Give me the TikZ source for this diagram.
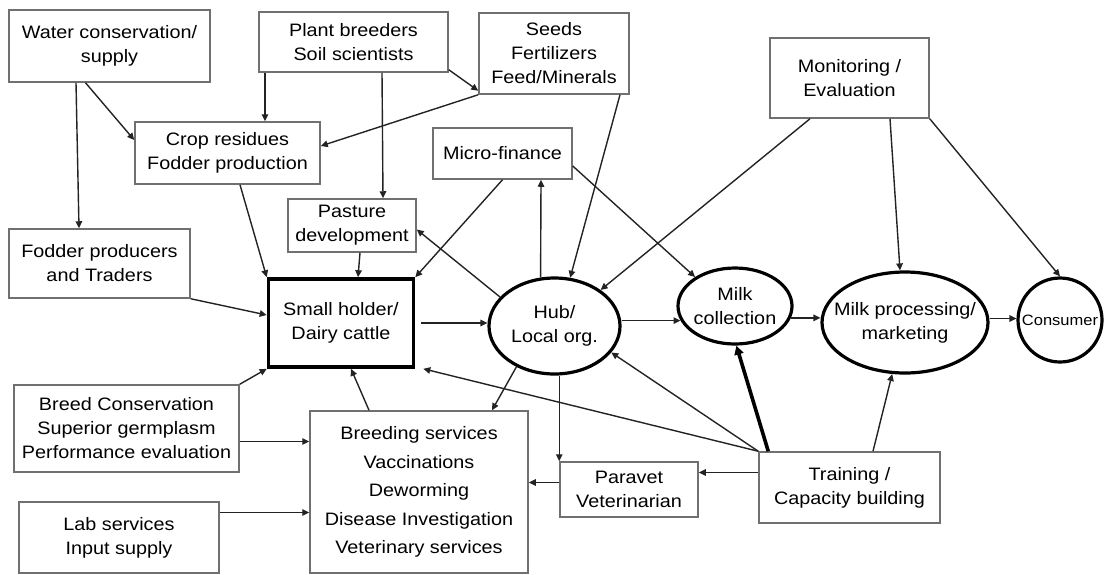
\documentclass[tikz,border=0pt]{standalone}
\usepackage{fontspec}
\usepackage{tikz}
\usetikzlibrary{
  arrows.meta,
  positioning,
  shapes.geometric,
  calc
}
\newfontfamily\diafont[FakeStretch=1.1]{Liberation Sans}
\definecolor{boxgray}{RGB}{112,112,112}
\definecolor{inkgray}{RGB}{35,35,35}
\newcommand{\ctrline}[1]{\makebox[0pt]{#1}}
\tikzset{
  box/.style={draw=boxgray, line width=1.5pt, align=center, inner sep=2pt,
    font=\diafont\fontsize{18}{24}\selectfont},
  holder/.style={box, draw=black, line width=3.6pt},
  stage/.style={ellipse, draw=black, line width=3.2pt, align=center, inner sep=0pt,
    font=\diafont\fontsize{18}{24}\selectfont},
  link/.style={draw=inkgray, line width=1.4pt, -{Triangle[length=7pt,width=6.5pt]}},
  boldlink/.style={link, draw=black, line width=3.6pt, -{Triangle[length=9pt,width=9pt]}}
}

\begin{document}
\begin{tikzpicture}[x=1pt, y=-1pt]
  \useasboundingbox (0,0) rectangle (1107,574);

  % inputs, top row
  \node[box, minimum width=201pt, minimum height=72pt] (water) at (109.5,46) {Water conservation/\\supply};
  \node[box, minimum width=189pt, minimum height=60pt] (plant) at (353.5,42) {Plant breeders\\Soil scientists};
  \node[box, minimum width=150pt, minimum height=81pt] (seeds) at (554,53.5) {Seeds\\Fertilizers\\Feed/Minerals};
  \node[box, minimum width=159pt, minimum height=80pt] (monitor) at (849.5,78) {Monitoring /\\Evaluation};

  \node[box, minimum width=185pt, minimum height=62pt] (crop) at (227.5,153) {Crop residues\\Fodder production};
  \node[box, minimum width=139pt, minimum height=51pt] (micro) at (502.5,153.5) {Micro-finance};
  \node[box, minimum width=128pt, minimum height=53pt] (pasture) at (352,225.5) {Pasture\\development};
  \node[box, minimum width=181pt, minimum height=69pt] (fodder) at (99.5,263.5) {Fodder producers\\and Traders};

  % value chain
  \node[holder, minimum width=145pt, minimum height=88pt] (small) at (341,323) {Small holder/\\Dairy cattle};
  \node[stage, minimum width=131pt, minimum height=96pt] (hub) at (554.5,326) {\ctrline{Hub/}\\\ctrline{Local org.}};
  \node[stage, minimum width=114pt, minimum height=76pt] (collect) at (735,306) {\ctrline{Milk}\\\ctrline{collection}};
  \node[stage, minimum width=166pt, minimum height=101pt] (process) at (905,322.5) {\ctrline{Milk processing/}\\\ctrline{marketing}};
  \node[stage, minimum width=84pt, minimum height=84pt, font=\diafont\fontsize{15}{20}\selectfont] (consumer) at (1060,320) {\ctrline{Consumer}};

  % services, bottom
  \node[box, minimum width=225pt, minimum height=87pt] (breed) at (126.5,428.5) {Breed Conservation\\Superior germplasm\\Performance evaluation};
  \node[box, minimum width=200pt, minimum height=71pt] (lab) at (119,537.5) {Lab services\\Input supply};
  \node[box, minimum width=218pt, minimum height=162pt, font=\diafont\fontsize{18}{28.5}\selectfont] (breeding) at (419,492) {Breeding services\\Vaccinations\\Deworming\\Disease Investigation\\Veterinary services};
  \node[box, minimum width=138pt, minimum height=55pt] (paravet) at (629,489.5) {Paravet\\Veterinarian};
  \node[box, minimum width=181pt, minimum height=71pt] (training) at (849.5,487.5) {Training /\\Capacity building};

  % connectors
  \draw[link] ([xshift=-24pt]water.south) -- ([yshift=13pt]crop.west);
  \draw[link] ([xshift=-33.5pt]water.south) -- ([xshift=-20.5pt]fodder.north);
  \draw[link] ([xshift=-88.5pt]plant.south) -- ([xshift=37.5pt]crop.north);
  \draw[link] ([xshift=28.5pt]plant.south) -- ([xshift=31pt]pasture.north);
  \draw[link] ([yshift=3pt]plant.south east) -- ([yshift=4pt]seeds.south west);
  \draw[link] (seeds.south west) -- ([yshift=7pt]crop.east);
  \draw[link] ([xshift=66pt]seeds.south) -- (hub.72);
  \draw[link] ([xshift=12.5pt]crop.south) -- (small.north west);
  \draw[link] ([xshift=8pt]pasture.south) -- ([xshift=17pt]small.north);
  \draw[link] (micro.south) -- (small.north east);
  \draw[link] ([yshift=-12.5pt]micro.east) -- (collect.144);
  \draw[link] (hub.106) -- ([xshift=38.5pt]micro.south);
  \draw[link] (hub.152) -- ([yshift=-4pt]pasture.east);
  \draw[link] ([xshift=-39.5pt]monitor.south) -- (hub.38);
  \draw[link] ([xshift=40.5pt]monitor.south) -- ([xshift=-5pt]process.north);
  \draw[link] (monitor.south east) -- (consumer.north);
  \draw[link] (fodder.south east) -- ([yshift=8pt]small.west);
  \draw[link] (breed.north east) -- (small.south west);
  \draw[link] ([yshift=-13pt]breed.east) -- ([yshift=-13pt]breed.east -| breeding.west);
  \draw[link] ([yshift=25pt]lab.east) -- ([yshift=25pt]lab.east -| breeding.west);
  \draw[link] ([xshift=-50pt]breeding.north) -- ([xshift=10pt]small.south);
  \draw[link, shorten <=6pt] (small.east) -- (small.east -| hub.west);
  \draw[link] (collect.195 -| hub.east) -- (collect.195);
  \draw[link] (collect.-12) -- (collect.-12 -| process.west);
  \draw[link] ([yshift=4pt]process.east) -- ([yshift=4pt]process.east -| consumer.west);
  \draw[link] (hub.227) -- ([xshift=73pt]breeding.north);
  \draw[link] (hub.south -| paravet.north west) -- (paravet.north west);
  \draw[link] ([yshift=7pt]paravet.west) -- ([yshift=7pt]paravet.west -| breeding.east);
  \draw[link] ([yshift=15pt]training.west) -- ([yshift=15pt]training.west -| paravet.east);
  \draw[link] (training.north west) -- ([xshift=8pt]small.south east);
  \draw[link] (training.north west) -- (hub.-25);
  \draw[boldlink] ([xshift=10pt]training.north west) -- (collect.-88);
  \draw[link] ([xshift=23.5pt]training.north) -- (process.-104);
\end{tikzpicture}
\end{document}
